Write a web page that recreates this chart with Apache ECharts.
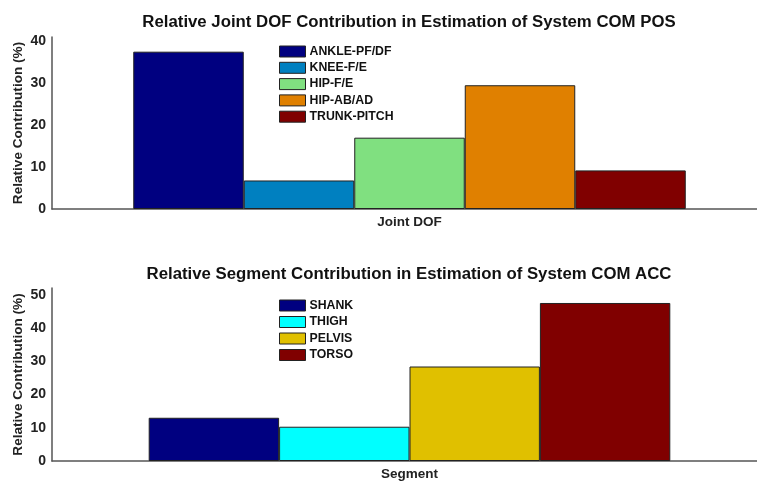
<!DOCTYPE html>
<html>
<head>
<meta charset="utf-8">
<script src="https://cdn.jsdelivr.net/npm/echarts@6/dist/echarts.min.js"></script>
<style>
  html, body { margin: 0; padding: 0; background: #fff; }
  #chart { width: 757px; height: 481px; }
</style>
</head>
<body>
<div id="chart"></div>
<script>
// Joint DOF contributions to system COM position (%)
const jointNames = ['ANKLE-PF/DF', 'KNEE-F/E', 'HIP-F/E', 'HIP-AB/AD', 'TRUNK-PITCH'];
const jointValues = [37.5, 6.8, 17.0, 29.5, 9.2];
const jointColors = ['#000080', '#0080C0', '#80E080', '#E08000', '#800000'];

// Segment contributions to system COM acceleration (%)
const segmentNames = ['SHANK', 'THIGH', 'PELVIS', 'TORSO'];
const segmentValues = [13.0, 10.3, 28.4, 47.5];
const segmentColors = ['#000080', '#00FFFF', '#E0C000', '#800000'];

const topTicks = [0, 10, 20, 30, 40];
const bottomTicks = [0, 10, 20, 30, 40, 50];

const FONT = 'Liberation Sans, Arial, sans-serif';
const chart = echarts.init(document.getElementById('chart'), null, { renderer: 'canvas' });

function yAxisFor(gridIndex, max, ticks) {
  return {
    type: 'value', gridIndex, min: 0, max, interval: 10,
    name: 'Relative Contribution (%)', nameLocation: 'middle', nameGap: 27, nameMoveOverlap: false,
    nameTextStyle: { fontFamily: FONT, fontWeight: 'bold', fontSize: 13.6, color: '#222' },
    axisLine: { show: true, lineStyle: { color: '#555', width: 1.5 } },
    axisTick: { show: false },
    splitLine: { show: false },
    axisLabel: {
      fontFamily: FONT, fontWeight: 'bold', fontSize: 14, color: '#222', margin: 6,
      formatter: v => (ticks.indexOf(v) >= 0 ? String(v) : '')
    }
  };
}

function xAxisFor(gridIndex, name) {
  return {
    type: 'category', gridIndex, data: [''],
    name, nameLocation: 'middle', nameGap: 6,
    nameTextStyle: { fontFamily: FONT, fontWeight: 'bold', fontSize: 13.5, color: '#222', verticalAlign: 'top' },
    axisLine: { show: true, lineStyle: { color: '#555', width: 1.5 } },
    axisTick: { show: false },
    axisLabel: { show: false }
  };
}

function barSeries(names, values, colors, axisIndex, width) {
  return names.map((n, i) => ({
    type: 'bar', name: n, xAxisIndex: axisIndex, yAxisIndex: axisIndex,
    data: [values[i]], barWidth: width, barGap: '0%',
    itemStyle: { color: colors[i], borderColor: '#222', borderWidth: 1 },
    emphasis: { disabled: true }
  }));
}

function legendFor(names, top, gap) {
  return {
    data: names, orient: 'vertical', left: 279, top, itemGap: gap,
    itemWidth: 26, itemHeight: 11, icon: 'rect',
    itemStyle: { borderColor: '#222', borderWidth: 1 },
    textStyle: { fontFamily: FONT, fontWeight: 'bold', fontSize: 12.3, color: '#111', padding: [0, 0, 0, -1] },
    selectedMode: false, padding: 0
  };
}

chart.setOption({
  animation: false,
  backgroundColor: '#fff',
  title: [
    { text: 'Relative Joint DOF Contribution in Estimation of System COM POS', left: 404, top: 9, textAlign: 'center',
      textStyle: { fontFamily: FONT, fontWeight: 'bold', fontSize: 16.8, color: '#111' } },
    { text: 'Relative Segment Contribution in Estimation of System COM ACC', left: 404, top: 261, textAlign: 'center',
      textStyle: { fontFamily: FONT, fontWeight: 'bold', fontSize: 16.8, color: '#111' } }
  ],
  legend: [legendFor(jointNames, 45.5, 4.3), legendFor(segmentNames, 299.5, 4.5)],
  grid: [
    { left: 52, width: 715, top: 37, height: 172, outerBoundsMode: 'none' },
    { left: 52, width: 715, top: 288, height: 173, outerBoundsMode: 'none' }
  ],
  xAxis: [xAxisFor(0, 'Joint DOF'), xAxisFor(1, 'Segment')],
  yAxis: [yAxisFor(0, 41, topTicks), yAxisFor(1, 52, bottomTicks)],
  series: [
    ...barSeries(jointNames, jointValues, jointColors, 0, 110.5),
    ...barSeries(segmentNames, segmentValues, segmentColors, 1, 130.4)
  ]
});
</script>
</body>
</html>
